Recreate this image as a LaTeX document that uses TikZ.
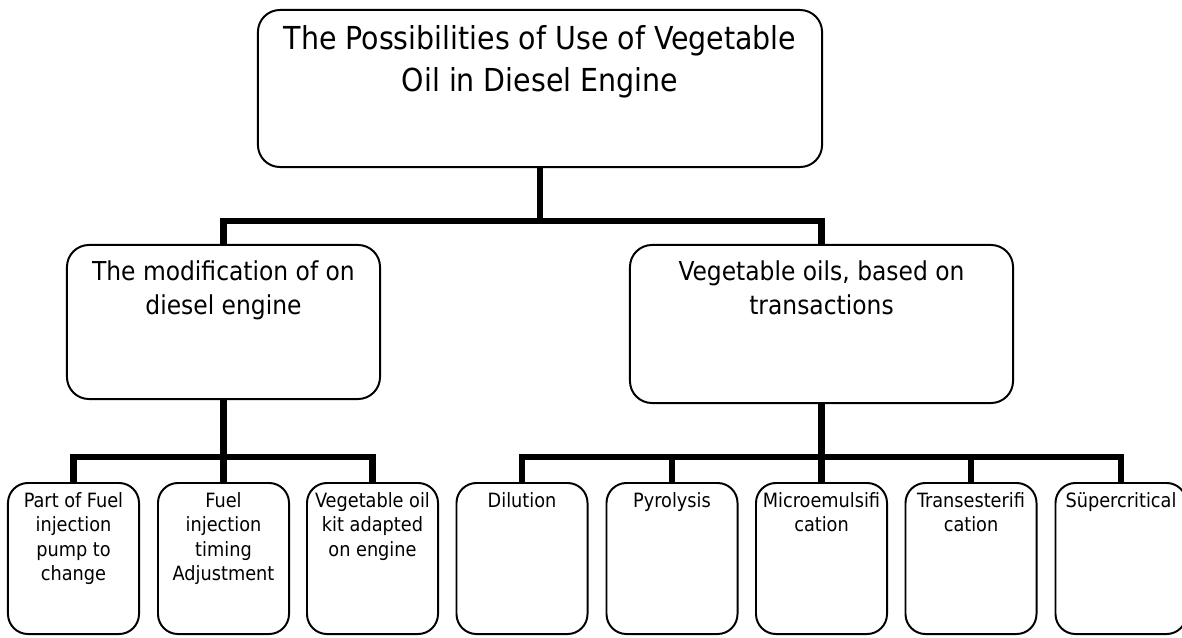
\documentclass[tikz,border=0pt]{standalone}
\usepackage{fontspec}
\setmainfont{DejaVu Sans Condensed}
\usetikzlibrary{positioning}
\tikzstyle{bigbox} = [rectangle, rounded corners=0.55cm, draw=black, line width=1.4pt]
\tikzstyle{leafbox} = [rectangle, rounded corners=0.5cm, draw=black, line width=1.4pt, minimum width=3.275cm, minimum height=3.775cm]
\tikzstyle{toptxt} = [font=\fontsize{22.5}{30}\selectfont, align=center, inner sep=0pt]
\tikzstyle{midtxt} = [font=\fontsize{18.5}{24.5}\selectfont, align=center, inner sep=0pt]
\tikzstyle{leaftxt} = [font=\fontsize{14}{17.4}\selectfont, align=center, inner sep=0pt]
\tikzstyle{link} = [line width=4.3pt, black]

\begin{document}
\begin{tikzpicture}[x=0.025cm, y=-0.025cm]
\useasboundingbox (0,0) rectangle (1182,637);

% boxes
\node (top) [bigbox, minimum width=14.1cm, minimum height=3.925cm] at (540,88.5) {};
\node (modif) [bigbox, minimum width=7.825cm, minimum height=3.85cm] at (223.5,322) {};
\node (vegoil) [bigbox, minimum width=9.575cm, minimum height=3.95cm] at (821.5,324) {};

\node (pump) [leafbox] at (73.5,558.5) {};
\node (timing) [leafbox] at (223.5,558.5) {};
\node (kit) [leafbox] at (372.5,558.5) {};
\node (dilution) [leafbox] at (522,558.5) {};
\node (pyrolysis) [leafbox] at (672,558.5) {};
\node (micro) [leafbox] at (821.5,558.5) {};
\node (trans) [leafbox] at (971,558.5) {};
\node (super) [leafbox] at (1121,558.5) {};

% texts
\node (toplabel) [toptxt, below=0.4cm of top.north] {The Possibilities of Use of Vegetable\\Oil in Diesel Engine};
\node (modiflabel) [midtxt, below=0.4cm of modif.north] {The modification of on\\diesel engine};
\node (vegoillabel) [midtxt, below=0.4cm of vegoil.north] {Vegetable oils, based on\\transactions};
\node (pumplabel) [leaftxt, below=0.25cm of pump.north] {Part of Fuel\\injection\\pump to\\change};
\node (timinglabel) [leaftxt, below=0.25cm of timing.north] {Fuel\\injection\\timing\\Adjustment};
\node (kitlabel) [leaftxt, below=0.25cm of kit.north] {Vegetable oil\\kit adapted\\on engine};
\node (dilutionlabel) [leaftxt, below=0.25cm of dilution.north] {Dilution};
\node (pyrolysislabel) [leaftxt, below=0.25cm of pyrolysis.north] {Pyrolysis};
\node (microlabel) [leaftxt, below=0.25cm of micro.north] {Microemulsifi\\cation};
\node (translabel) [leaftxt, below=0.25cm of trans.north] {Transesterifi\\cation};
\node (superlabel) [leaftxt, below=0.25cm of super.north] {Süpercritical};

% connectors
\coordinate (bar1) at (0,221);
\coordinate (bar2) at (0,457);
\draw [link] (top.south) -- (top.south |- bar1);
\draw [link] (modif.north) -- (modif.north |- bar1) -- (vegoil.north |- bar1) -- (vegoil.north);

\draw [link] (modif.south) -- (timing.north);
\draw [link] (pump.north) -- (pump.north |- bar2) -- (kit.north |- bar2) -- (kit.north);

\draw [link] (vegoil.south) -- (micro.north);
\draw [link] (dilution.north) -- (dilution.north |- bar2) -- (super.north |- bar2) -- (super.north);
\draw [link] (pyrolysis.north) -- (pyrolysis.north |- bar2);
\draw [link] (trans.north) -- (trans.north |- bar2);

\end{tikzpicture}
\end{document}
